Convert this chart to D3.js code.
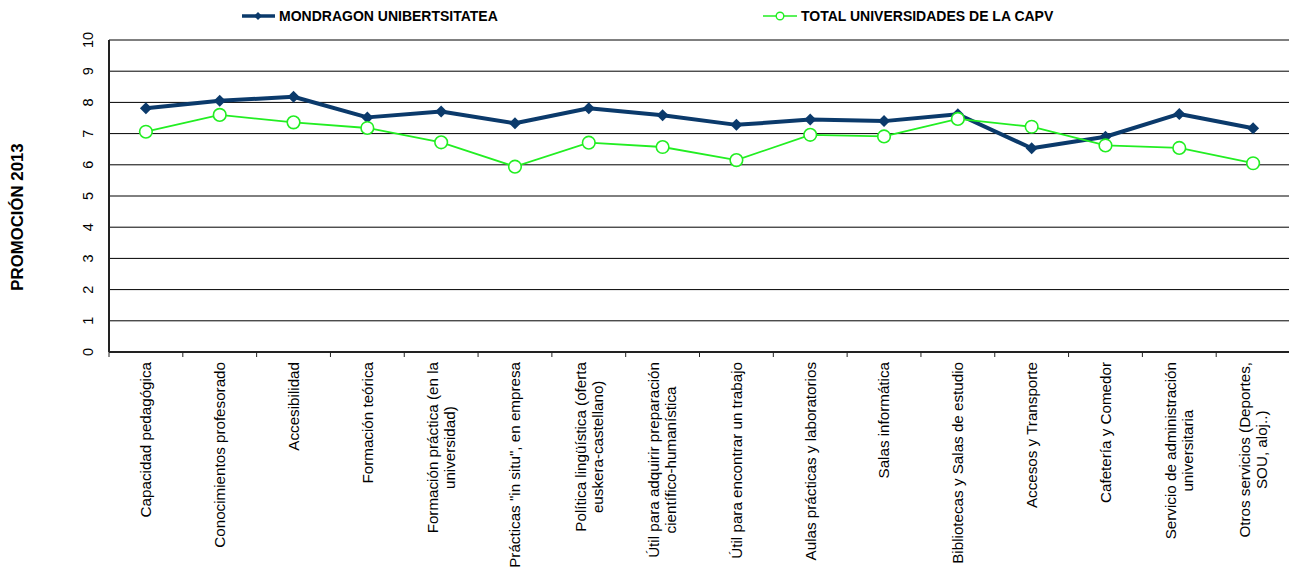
<!DOCTYPE html>
<html>
<head>
<meta charset="utf-8">
<script src="https://cdn.jsdelivr.net/npm/d3@7"></script>
<style>
  html, body { margin: 0; padding: 0; background: #fff; }
  svg { display: block; font-family: "Liberation Sans", Arial, sans-serif; }
</style>
</head>
<body>
<svg id="chart" width="1289" height="571"></svg>
<script>
const categories = [
  "Capacidad pedagógica",
  "Conocimientos profesorado",
  "Accesibilidad",
  "Formación teórica",
  "Formación práctica (en la\nuniversidad)",
  "Prácticas \"in situ\", en empresa",
  "Política lingüística (oferta\neuskera-castellano)",
  "Útil para adquirir preparación\ncientífico-humanística",
  "Útil para encontrar un trabajo",
  "Aulas prácticas y laboratorios",
  "Salas informática",
  "Bibliotecas y Salas de estudio",
  "Accesos y Transporte",
  "Cafetería y Comedor",
  "Servicio de administración\nuniversitaria",
  "Otros servicios (Deportes,\nSOU, aloj..)"
];
const seriesNames = ["MONDRAGON UNIBERTSITATEA", "TOTAL UNIVERSIDADES DE LA CAPV"];
const mondragon = [7.81, 8.05, 8.18, 7.52, 7.71, 7.33, 7.81, 7.59, 7.28, 7.45, 7.40, 7.62, 6.53, 6.90, 7.63, 7.17];
const totalCapv = [7.06, 7.60, 7.36, 7.18, 6.72, 5.94, 6.71, 6.57, 6.15, 6.96, 6.91, 7.47, 7.22, 6.62, 6.54, 6.05];
const yTicks = [0, 1, 2, 3, 4, 5, 6, 7, 8, 9, 10];
const yTitle = "PROMOCIÓN 2013";

const svg = d3.select("#chart");
const L = 109, R = 1290, T = 40, B = 352;
const navy = "#0b3a6b", green = "#22ee22";

const x = d3.scaleBand().domain(categories).range([L, R]).padding(0);
const y = d3.scaleLinear().domain([0, 10]).range([B, T]);
const cx = c => x(c) + x.bandwidth() / 2;

// gridlines
svg.append("g").selectAll("line").data(yTicks.filter(d => d > 0)).join("line")
  .attr("x1", L).attr("x2", R)
  .attr("y1", d => y(d)).attr("y2", d => y(d))
  .attr("stroke", "#000").attr("stroke-width", 1);

// axes lines
svg.append("line").attr("x1", L).attr("x2", L).attr("y1", T).attr("y2", B)
  .attr("stroke", "#222").attr("stroke-width", 2);
svg.append("line").attr("x1", L).attr("x2", R).attr("y1", B).attr("y2", B)
  .attr("stroke", "#222").attr("stroke-width", 2);

// x ticks at band boundaries
const bounds = categories.map(c => x(c)).concat([R]);
svg.append("g").selectAll("line").data(bounds).join("line")
  .attr("x1", d => d).attr("x2", d => d)
  .attr("y1", B).attr("y2", B + 5)
  .attr("stroke", "#222").attr("stroke-width", 1);

// y tick labels (rotated)
svg.append("g").selectAll("text").data(yTicks).join("text")
  .attr("transform", d => `translate(93,${y(d)}) rotate(-90)`)
  .attr("text-anchor", "middle")
  .attr("font-size", 14.5)
  .attr("fill", "#000")
  .text(d => d);

// y title
svg.append("text")
  .attr("transform", `translate(23,217) rotate(-90)`)
  .attr("text-anchor", "middle")
  .attr("font-size", 16.8)
  .attr("font-weight", "bold")
  .text(yTitle);

// x labels
const lh = 17, labTop = 362;
categories.forEach(c => {
  const lines = c.split("\n");
  const g = svg.append("g").attr("transform", `translate(${cx(c)},0) rotate(-90)`);
  const texts = lines.map((ln, i) => g.append("text")
    .attr("font-size", 15.2)
    .attr("text-anchor", "middle")
    .attr("y", (i - (lines.length - 1) / 2) * lh)
    .attr("dy", "0.35em")
    .text(ln));
  const maxW = d3.max(texts, t => t.node().getComputedTextLength());
  texts.forEach(t => t.attr("x", -(labTop + maxW / 2)));
});

const diamond = s => `M0,${-s}L${s},0L0,${s}L${-s},0Z`;

// Mondragon line
const line = d3.line().x((d, i) => cx(categories[i])).y(d => y(d));
svg.append("path").datum(mondragon).attr("d", line)
  .attr("fill", "none").attr("stroke", navy).attr("stroke-width", 4)
  .attr("stroke-linejoin", "round");
svg.append("g").selectAll("path").data(mondragon).join("path")
  .attr("transform", (d, i) => `translate(${cx(categories[i])},${y(d)})`)
  .attr("d", diamond(6)).attr("fill", navy);

// Total line
svg.append("path").datum(totalCapv).attr("d", line)
  .attr("fill", "none").attr("stroke", green).attr("stroke-width", 1.8);
svg.append("g").selectAll("circle").data(totalCapv).join("circle")
  .attr("cx", (d, i) => cx(categories[i])).attr("cy", d => y(d))
  .attr("r", 6.3).attr("fill", "#fff").attr("stroke", green).attr("stroke-width", 1.6);

// legend
const lg1 = svg.append("g");
lg1.append("line").attr("x1", 242).attr("x2", 275).attr("y1", 16).attr("y2", 16)
  .attr("stroke", navy).attr("stroke-width", 3.5);
lg1.append("path").attr("transform", "translate(258,16)").attr("d", diamond(4)).attr("fill", navy);
lg1.append("text").attr("x", 279).attr("y", 21).attr("font-size", 14).attr("font-weight", "bold")
  .text(seriesNames[0]);

const lg2 = svg.append("g");
lg2.append("line").attr("x1", 763).attr("x2", 797).attr("y1", 16).attr("y2", 16)
  .attr("stroke", green).attr("stroke-width", 1.6);
lg2.append("circle").attr("cx", 780).attr("cy", 16).attr("r", 3.8)
  .attr("fill", "#fff").attr("stroke", green).attr("stroke-width", 1.4);
lg2.append("text").attr("x", 801).attr("y", 21).attr("font-size", 14).attr("font-weight", "bold")
  .text(seriesNames[1]);
</script>
</body>
</html>
